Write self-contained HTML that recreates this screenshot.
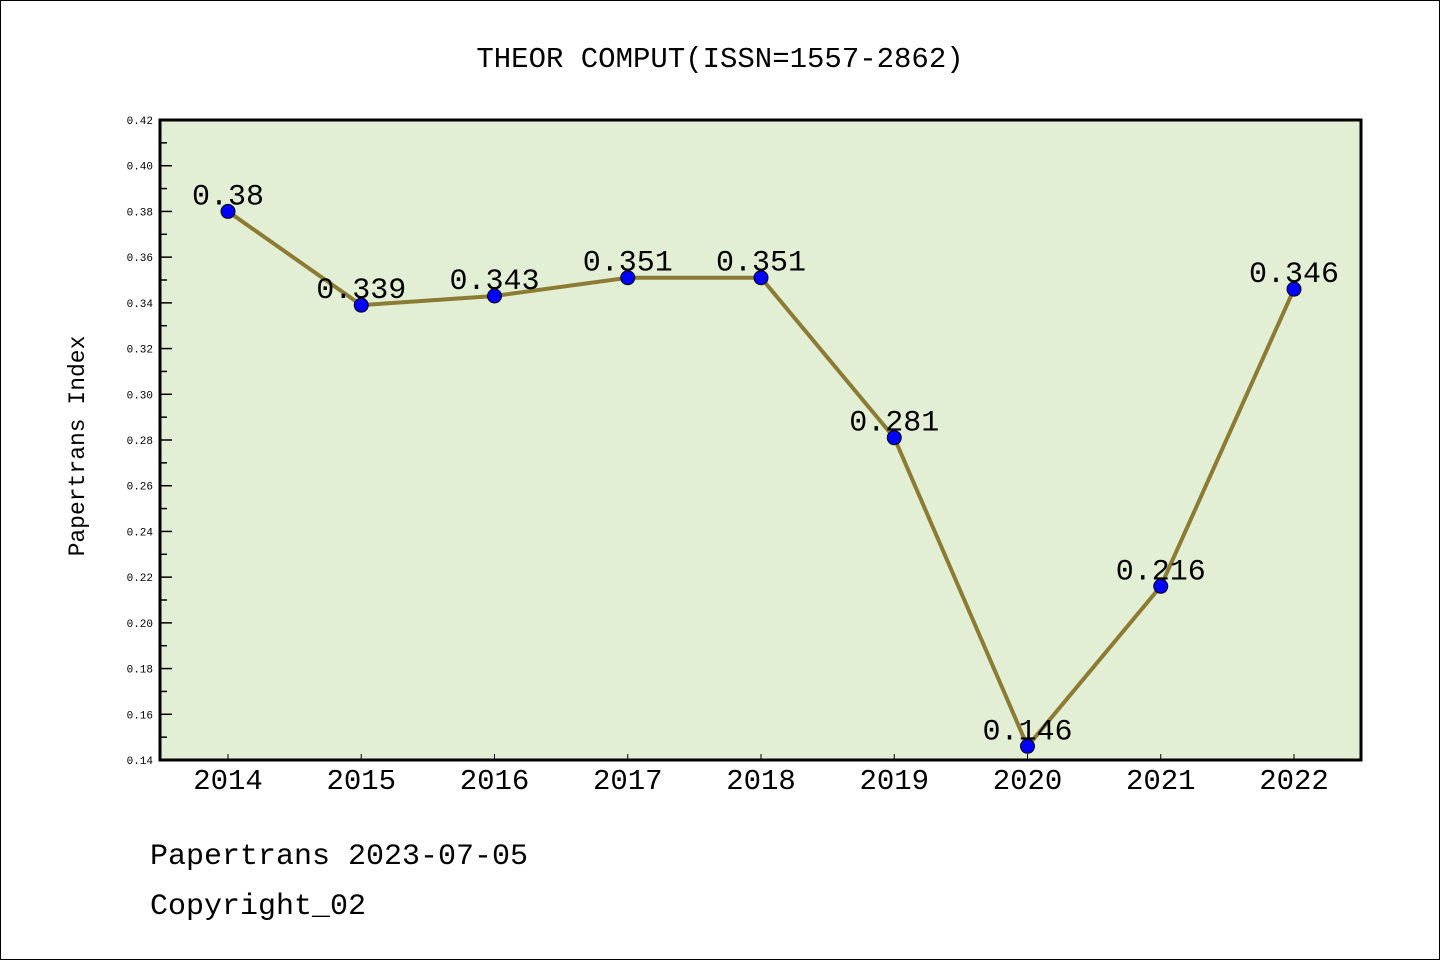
<!DOCTYPE html>
<html><head><meta charset="utf-8"><style>
html,body{margin:0;padding:0;background:#fff}
svg{display:block}
text{font-family:"Liberation Mono","DejaVu Sans Mono",monospace}
</style></head><body>
<svg id="c" width="1440" height="960">
<rect x="0.5" y="0.5" width="1439" height="959" fill="#fff" stroke="#000"/>
<text x="720" y="67" text-anchor="middle" font-size="29">THEOR COMPUT(ISSN=1557-2862)</text>
<rect x="160" y="120" width="1201" height="640" fill="#e2efd5"/>
<g id="ticks"></g>
<g id="series"></g>
<rect x="160" y="120" width="1201" height="640" fill="none" stroke="#000" stroke-width="3"/>
<text transform="translate(84,446) rotate(-90)" text-anchor="middle" font-size="23">Papertrans Index</text>
<text x="150" y="864" font-size="30">Papertrans 2023-07-05</text>
<text x="150" y="914" font-size="30">Copyright_02</text>
</svg>
<script>
const years=["2014","2015","2016","2017","2018","2019","2020","2021","2022"];
const values=[0.38,0.339,0.343,0.351,0.351,0.281,0.146,0.216,0.346];
const valueLabels=["0.38","0.339","0.343","0.351","0.351","0.281","0.146","0.216","0.346"];
const yTicks=[0.14,0.16,0.18,0.20,0.22,0.24,0.26,0.28,0.30,0.32,0.34,0.36,0.38,0.40,0.42];
(function(){
const yMin=0.14,yMax=0.42,yTopPx=120,yBotPx=760,x0=228,dx=133.25;
const NS="http://www.w3.org/2000/svg";
const ys=v=>yBotPx-(v-yMin)/(yMax-yMin)*(yBotPx-yTopPx);
const xs=i=>x0+i*dx;
function mk(t,a,p){const e=document.createElementNS(NS,t);for(const k in a)e.setAttribute(k,a[k]);p.appendChild(e);return e;}
const tg=document.getElementById('ticks'),sg=document.getElementById('series');
yTicks.forEach((v,i)=>{
 const l=mk('line',{x1:160,x2:172,y1:ys(v),y2:ys(v),stroke:'#000','stroke-width':1.5},tg);
 
 
 const t=mk('text',{x:153,y:ys(v)+4,'text-anchor':'end','font-size':11,'font-family':'Liberation Sans'},tg);
 t.textContent=v.toFixed(2);
 
 
 if(i<yTicks.length-1){const mv=v+0.01;
  const m=mk('line',{x1:160,x2:167,y1:ys(mv),y2:ys(mv),stroke:'#000','stroke-width':1.5},tg);
  
  }
});
years.forEach((yr,i)=>{
 const l=mk('line',{x1:xs(i),x2:xs(i),y1:yBotPx,y2:yBotPx-6,stroke:'#000','stroke-width':1},tg);
 
 
 const t=mk('text',{x:xs(i),y:789,'text-anchor':'middle','font-size':29,'font-family':'Liberation Sans'},tg);
 t.textContent=yr;
 
 
});
const pl=mk('polyline',{points:values.map((v,i)=>xs(i)+','+ys(v)).join(' '),fill:'none',stroke:'#8b7b33','stroke-width':4},sg);


values.forEach((v,i)=>{
 const c=mk('circle',{cx:xs(i),cy:ys(v),r:7,fill:'#0000ff',stroke:'#000','stroke-width':1},sg);
 
 
 const t=mk('text',{x:xs(i),y:ys(v)-7,'text-anchor':'middle','font-size':30},sg);
 t.textContent=valueLabels[i];
 
 
});
})();
</script>
</body></html>
